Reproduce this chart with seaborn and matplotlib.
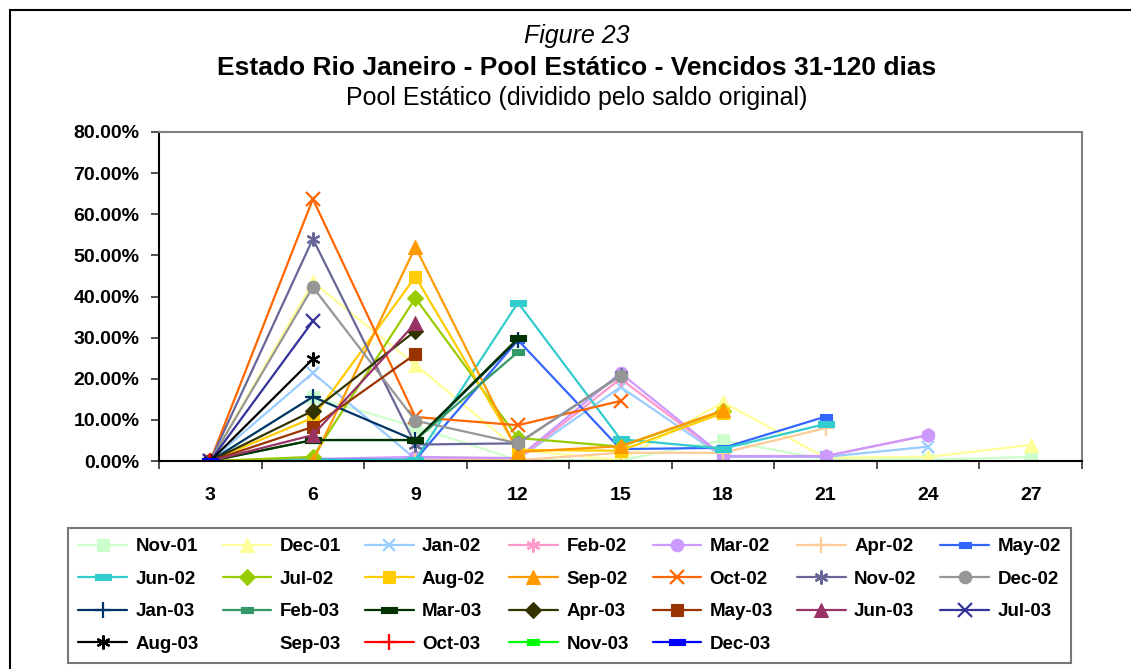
import matplotlib
matplotlib.use("Agg")
import matplotlib.pyplot as plt
import seaborn as sns
import pandas as pd
from matplotlib.lines import Line2D
from matplotlib.patches import Rectangle
from matplotlib.ticker import FixedLocator, FuncFormatter

# months on book (x axis)
months = [3, 6, 9, 12, 15, 18, 21, 24, 27]

cohorts = ["Nov-01", "Dec-01", "Jan-02", "Feb-02", "Mar-02", "Apr-02", "May-02",
           "Jun-02", "Jul-02", "Aug-02", "Sep-02", "Oct-02", "Nov-02", "Dec-02",
           "Jan-03", "Feb-03", "Mar-03", "Apr-03", "May-03", "Jun-03", "Jul-03",
           "Aug-03", "Sep-03", "Oct-03", "Nov-03", "Dec-03"]

# % vencidos 31-120 dias
nov_01 = [0, 15.6, 8.3, 0.2, 0.2, 5.0, 0.4, 0.3, 1.0]
dec_01 = [0, 43.5, 23.4, 2.7, 0.2, 14.3, 0.8, 1.0, 3.9]
jan_02 = [0, 21.4, 0.5, 0.5, 18.0, 1.0, 1.0, 3.5]
feb_02 = [0, 0.3, 0.3, 0.5, 20.0, 1.2, 1.2, 6.3]
mar_02 = [0, 0.5, 1.0, 0.7, 21.4, 1.2, 1.2, 6.3]
apr_02 = [0, 0.2, 0.2, 0.2, 2.0, 2.0, 8.0]
may_02 = [0, 0.3, 0.3, 29.4, 2.9, 3.2, 10.8]
jun_02 = [0, 0.3, 0.3, 38.5, 5.3, 3.0, 9.0]
jul_02 = [0, 1.0, 39.6, 5.6, 3.5, 12.2]
aug_02 = [0, 10.5, 44.8, 2.7, 2.5, 11.7]
sep_02 = [0, 0.0, 52.0, 2.2, 3.6, 12.3]
oct_02 = [0, 63.7, 10.7, 8.7, 14.6]
nov_02 = [0, 54.0, 4.0, 4.3, 20.8]
dec_02 = [0, 42.3, 9.8, 4.3, 20.7]
jan_03 = [0, 15.6, 5.0, 29.5]
feb_03 = [0, 5.1, 5.1, 26.5]
mar_03 = [0, 5.1, 5.1, 29.8]
apr_03 = [0, 12.2, 31.6]
may_03 = [0, 8.3, 26.0]
jun_03 = [0, 6.3, 33.5]
jul_03 = [0, 34.0]
aug_03 = [0, 24.8]
sep_03 = []
oct_03 = [0]
nov_03 = [0]
dec_03 = [0]

values = [nov_01, dec_01, jan_02, feb_02, mar_02, apr_02, may_02, jun_02,
          jul_02, aug_02, sep_02, oct_02, nov_02, dec_02, jan_03, feb_03,
          mar_03, apr_03, may_03, jun_03, jul_03, aug_03, sep_03, oct_03,
          nov_03, dec_03]

colors = ["#CCFFCC", "#FFFF99", "#99CCFF", "#FF99CC", "#CC99FF", "#FFCC99",
          "#3366FF", "#33CCCC", "#99CC00", "#FFCC00", "#FF9900", "#FF6600",
          "#666699", "#969696", "#003366", "#339966", "#003300", "#333300",
          "#993300", "#993366", "#333399", "#000000", "none", "#FF0000",
          "#00FF00", "#0000FF"]

long_dash = [(-1, -0.4), (1, -0.4), (1, 0.4), (-1, 0.4), (-1, -0.4)]
short_dash = [(-1, -0.55), (1, -0.55), (1, 0.55), (-1, 0.55), (-1, -0.55)]
star = (6, 2, 0)

markers = ["s", "^", "x", star, "o", "+", short_dash,
           long_dash, "D", "s", "^", "x", star, "o",
           "+", short_dash, long_dash, "D", "s", "^", "x",
           star, None, "+", short_dash, long_dash]
msizes = [9, 10, 9, 10, 9, 11, 8, 11, 8, 9, 10, 10, 10, 9,
          11, 8, 11, 8, 9, 10, 10, 10, 0, 11, 8, 11]

sns.set_theme(style="white")
plt.rcParams['font.family'] = ['Liberation Sans', 'DejaVu Sans']
plt.rcParams['text.color'] = 'black'
plt.rcParams['xtick.color'] = 'black'
plt.rcParams['ytick.color'] = 'black'

fig = plt.figure(figsize=(11.31, 6.69), dpi=100)
ax = fig.add_axes([0.1406, 0.3109, 0.8161, 0.4918])

handles = []
for name, vals, col, mk, ms in zip(cohorts, values, colors, markers, msizes):
    if not vals:
        # Sep-03 has no data: blank legend entry only
        handles.append(Line2D([], [], linestyle="none", marker=None, label=name))
        continue
    df = pd.DataFrame({"mes": months[:len(vals)], "pct": vals})
    line_mk = mk in ("x", "+", star)
    sns.lineplot(data=df, x="mes", y="pct", ax=ax, color=col, marker=mk,
                 markersize=ms, markeredgecolor=col, markerfacecolor=col,
                 markeredgewidth=1.6 if line_mk else 0.8, linewidth=1.6,
                 legend=False)
    handles.append(ax.get_lines()[-1])

ax.set_xlim(1.5, 28.5)
ax.set_ylim(0, 80)
ax.set_xticks(months)
ax.set_xticklabels([str(m) for m in months])
ax.xaxis.set_minor_locator(FixedLocator([1.5 + 3 * k for k in range(10)]))
ax.set_yticks(range(0, 81, 10))
ax.yaxis.set_major_formatter(FuncFormatter(lambda v, p: f"{v:.2f}%"))
ax.set_xlabel("")
ax.set_ylabel("")
ax.tick_params(axis="x", which="minor", length=6, width=1.2, color="#333333",
               direction="out", bottom=True)
ax.tick_params(axis="y", which="major", length=6, width=1.2, color="#333333",
               direction="out", left=True, pad=8, labelsize=14)
ax.tick_params(axis="x", which="major", length=0, pad=19, labelsize=14)
for lab in ax.get_xticklabels() + ax.get_yticklabels():
    lab.set_fontweight("bold")
for s in ("left", "bottom"):
    ax.spines[s].set_color("black")
    ax.spines[s].set_linewidth(1.5)
for s in ("top", "right"):
    ax.spines[s].set_color("#808080")
    ax.spines[s].set_linewidth(1.5)

fig.text(0.51, 0.946, "Figure 23", ha="center", va="center", fontsize=18,
         style="italic")
fig.text(0.51, 0.899, "Estado Rio Janeiro - Pool Estático - Vencidos 31-120 dias",
         ha="center", va="center", fontsize=19, fontweight="bold")
fig.text(0.51, 0.853, "Pool Estático (dividido pelo saldo original)",
         ha="center", va="center", fontsize=18)

# legend laid out row by row like the original
ncol = 7
n = len(handles)
order = []
for c in range(ncol):
    rows = 4 if c < n % ncol else 3
    order += [r * ncol + c for r in range(rows)]
leg = fig.legend([handles[i] for i in order], [cohorts[i] for i in order],
                 loc="upper left", bbox_to_anchor=(0.0601, 0.0105, 0.887, 0.2003),
                 mode="expand", ncol=ncol, frameon=True, fancybox=False,
                 edgecolor="#555555", prop={"weight": "bold", "size": 13.5},
                 handlelength=2.6, labelspacing=0.82, borderaxespad=0,
                 handletextpad=0.45, borderpad=0.55)
leg.get_frame().set_linewidth(1.5)

fig.patches.append(Rectangle((10 / 1131, -0.1), 1.2, 1.1 - 10 / 669, fill=False,
                             edgecolor="black", linewidth=1.5,
                             transform=fig.transFigure, figure=fig))

fig.savefig("out.png", dpi=100)
